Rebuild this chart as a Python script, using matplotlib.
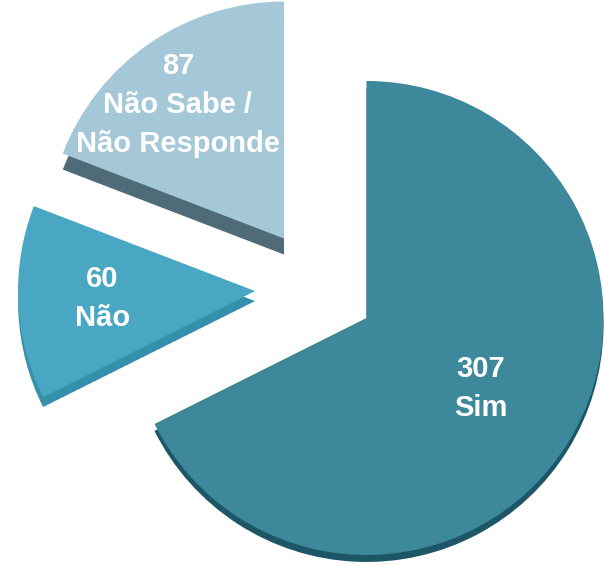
import numpy as np
import matplotlib
matplotlib.use("Agg")
import matplotlib.pyplot as plt

# Data
categories = ["Sim", "Não", "Não Sabe /\nNão Responde"]
values = [307, 60, 87]

# Styles
top_colors = ["#3d899b", "#4aa7c3", "#a4c8d7"]
side_colors = ["#1d5666", "#3690aa", "#4e6b77"]
explode = [57, 63, 60]          # in data units (pixels)
thickness = [7, 10, 16]
label_dist = [0.565, 0.646, 0.72]
label_turn = [0, 0, 4]          # degrees

fig = plt.figure(figsize=(6.04, 5.65), dpi=100)
ax = fig.add_axes([0, 0, 1, 1])

center = (318, 277)
radius = 237

# side (thickness) layer
sides, _ = ax.pie(values, colors=side_colors, startangle=90, counterclock=False,
                  explode=explode, center=center, radius=radius,
                  wedgeprops=dict(linewidth=0))
for w, t in zip(sides, thickness):
    cx, cy = w.center
    w.set_center((cx, cy - t))

# top layer
tops, _ = ax.pie(values, colors=top_colors, startangle=90, counterclock=False,
                 explode=explode, center=center, radius=radius,
                 wedgeprops=dict(linewidth=0))

for w, v, cat, d, turn in zip(tops, values, categories, label_dist, label_turn):
    cx, cy = w.center
    th = np.deg2rad((w.theta1 + w.theta2) / 2 + turn)
    x = cx + d * w.r * np.cos(th)
    y = cy + d * w.r * np.sin(th)
    ax.text(x, y, f"{v}\n{cat}", ha="center", va="center", color="white",
            fontsize=21, fontweight="bold", family="Liberation Sans",
            linespacing=1.52)

ax.set_xlim(0, 604)
ax.set_ylim(0, 565)
ax.set_aspect("equal")
ax.axis("off")

fig.savefig("out.png", dpi=100)
